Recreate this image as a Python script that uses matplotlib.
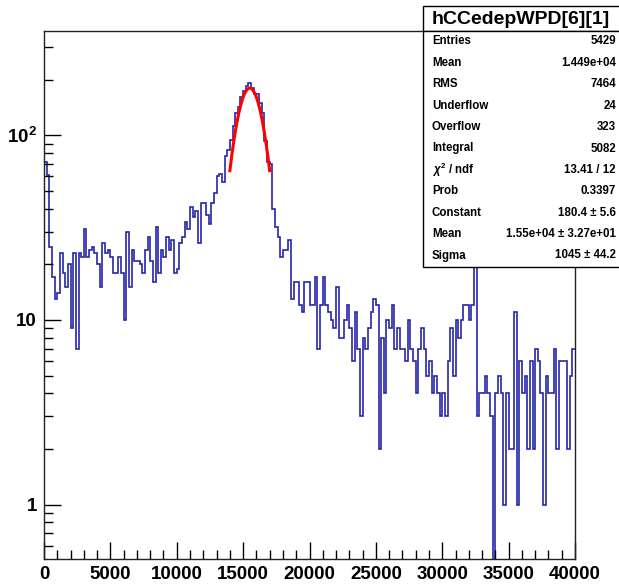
import numpy as np
import matplotlib
matplotlib.use("Agg")
import matplotlib.pyplot as plt
from matplotlib.patches import Rectangle
from matplotlib.ticker import MultipleLocator, FixedLocator, LogLocator, NullFormatter

plt.rcParams['font.family'] = ['Liberation Sans', 'DejaVu Sans']
plt.rcParams['font.weight'] = 'bold'
plt.rcParams['mathtext.fontset'] = 'custom'
plt.rcParams['mathtext.rm'] = 'Liberation Sans'
plt.rcParams['mathtext.it'] = 'Liberation Sans:italic'
plt.rcParams['mathtext.bf'] = 'Liberation Sans:bold'

# histogram: 200 bins from 0 to 40000
x_min, x_max, n_bins = 0, 40000, 200
counts = [
    72, 61, 25, 17, 13, 14, 23, 18, 15, 20, 9, 23, 7, 23, 22, 31, 22, 24, 25, 23,
    20, 15, 26, 23, 24, 22, 18, 18, 22, 18, 10, 30, 15, 24, 21, 21, 20, 18, 24, 28,
    21, 16, 32, 18, 24, 22, 28, 24, 27, 18, 19, 26, 28, 34, 31, 41, 36, 39, 26, 43,
    43, 37, 33, 43, 49, 60, 62, 56, 77, 83, 95, 112, 133, 143, 162, 175, 186, 192, 180, 167,
    167, 150, 132, 93, 72, 70, 40, 32, 28, 22, 24, 24, 27, 13, 16, 16, 12, 11, 16, 16,
    12, 12, 17, 7, 12, 17, 12, 11, 10, 9, 15, 8, 8, 10, 12, 9, 6, 11, 7, 3,
    8, 7, 9, 11, 13, 12, 2, 8, 4, 10, 9, 12, 7, 9, 7, 7, 6, 10, 7, 6,
    4, 7, 9, 7, 5, 6, 4, 5, 4, 3, 4, 3, 6, 9, 5, 10, 8, 10, 12, 12,
    10, 12, 24, 3, 4, 4, 5, 4, 3, 0, 4, 5, 4, 1, 4, 2, 2, 11, 1, 6,
    4, 5, 2, 6, 2, 7, 6, 4, 1, 5, 4, 4, 7, 2, 6, 6, 6, 2, 5, 7,
]

# gaussian fit result (from the stats box)
fit_const, fit_mean, fit_sigma = 180.4, 1.55e4, 1045
fit_lo, fit_hi = 14000, 17000

title = "hCCedepWPD[6][1]"
stat_names = ["Entries", "Mean", "RMS", "Underflow", "Overflow", "Integral",
              r"$\chi^{2}$ / ndf", "Prob", "Constant", "Mean", "Sigma"]
stat_values = ["5429", "1.449e+04", "7464", "24", "323", "5082",
               "13.41 / 12", "0.3397", "180.4 \u00b1 5.6",
               "1.55e+04 \u00b1 3.27e+01", "1045 \u00b1 44.2"]

W, H = 619, 585
fig = plt.figure(figsize=(W / 100, H / 100), dpi=100)
ax = fig.add_axes([44 / W, 26 / H, 531 / W, 528 / H])

edges = np.linspace(x_min, x_max, n_bins + 1)
vals = np.array(counts, dtype=float)
vals_draw = np.where(vals > 0, vals, 1e-3)
ax.stairs(vals_draw, edges, color='#2626a8', lw=1.2, baseline=None)

xf = np.linspace(fit_lo, fit_hi, 300)
ax.plot(xf, fit_const * np.exp(-0.5 * ((xf - fit_mean) / fit_sigma) ** 2),
        color='red', lw=2.2)

ax.set_yscale('log')
ax.set_xlim(x_min, x_max)
ax.set_ylim(0.507, 368)

ax.xaxis.set_major_locator(MultipleLocator(5000))
ax.xaxis.set_minor_locator(MultipleLocator(1000))
ax.yaxis.set_major_locator(FixedLocator([1, 10, 100]))
ax.set_yticklabels(["1", "10", r"$\mathbf{10^{2}}$"])
ax.yaxis.set_minor_locator(LogLocator(base=10, subs=np.arange(2, 10)))
ax.yaxis.set_minor_formatter(NullFormatter())
ax.tick_params(which='major', direction='in', length=12, width=1, labelsize=13.5, pad=5,
               colors='black')
ax.tick_params(which='minor', direction='in', length=6.4, width=1)
for lab in ax.get_xticklabels() + ax.get_yticklabels():
    lab.set_fontweight('bold')
for sp in ax.spines.values():
    sp.set_linewidth(1.0)
    sp.set_color('#222222')

# stats box in pixel coordinates
ov = fig.add_axes([0, 0, 1, 1], zorder=5)
ov.set_xlim(0, W)
ov.set_ylim(H, 0)
ov.axis('off')
ov.patch.set_alpha(0)
ov.add_patch(Rectangle((422.5, 6), 200, 25, facecolor='white', edgecolor='black', lw=1))
ov.add_patch(Rectangle((422.5, 31), 200, 236, facecolor='white', edgecolor='black', lw=1))
ov.text(521, 19, title, ha='center', va='center', fontsize=14, fontweight='bold')
for i, (n, v) in enumerate(zip(stat_names, stat_values)):
    y = 41.5 + 21.4 * i
    ov.text(432, y, n, ha='left', va='center', fontsize=8.3, fontweight='bold')
    ov.text(616, y, v, ha='right', va='center', fontsize=8.3, fontweight='bold')

fig.savefig("out.png", dpi=100)
